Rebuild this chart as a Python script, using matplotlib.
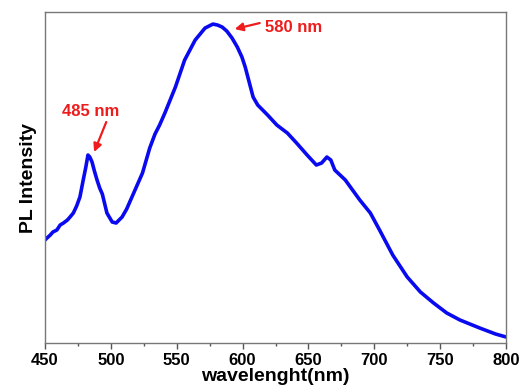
import numpy as np
import matplotlib
matplotlib.use('Agg')
import matplotlib.pyplot as plt
from matplotlib.ticker import MultipleLocator

plt.rcParams['font.family'] = ['Liberation Sans', 'DejaVu Sans']

# PL spectrum (intensity in arbitrary units)
wavelength = [450, 451.5, 454, 456, 459, 461.5, 464, 467, 469, 471.5, 474, 476.5,
              479, 481, 482.6, 484, 485.7, 487.5, 489.5, 491.5, 493.5, 497, 501,
              504, 508.5, 512, 516, 520, 524, 529.5, 533.5, 537, 541, 545,
              549, 556, 564, 571.5, 577.5, 581, 584.5, 588, 592, 596, 599.5,
              602, 604, 606, 608, 611.5, 619, 626, 634, 641, 649, 656, 660,
              664, 667, 670, 678, 689, 697, 704, 714, 725, 735, 745, 755,
              765, 780, 792, 800]
intensity = [103, 105, 108, 111, 113, 118, 120, 123, 126, 130, 137, 146,
             163, 176, 188, 186, 181, 172, 163, 155, 149, 130, 121,
             120, 126, 134, 146, 158, 170, 195, 209, 218, 230, 243,
             256, 283, 303, 315, 319, 318, 316, 312, 305, 296, 286,
             276, 266, 256, 246, 238, 228, 218, 210, 200, 188, 178, 180,
             186, 183, 173, 163, 143, 130, 113, 88, 66, 51, 40, 30,
             23, 15, 9, 6]

peak_labels = ['485 nm', '580 nm']

fig = plt.figure(figsize=(5.21, 3.89), dpi=100)
ax = fig.add_axes([0.0864, 0.1183, 0.8848, 0.8507])

ax.plot(wavelength, intensity, color='#0a0af0', lw=2.6,
        solid_capstyle='round', solid_joinstyle='round')

ax.set_xlim(450, 800)
ax.set_ylim(0, 331)
ax.xaxis.set_major_locator(MultipleLocator(50))
ax.xaxis.set_minor_locator(MultipleLocator(25))
ax.set_yticks([])
ax.tick_params(axis='x', which='major', direction='out', length=4, width=1,
               color='#555555', labelsize=12, pad=3)
ax.tick_params(axis='x', which='minor', direction='out', length=2.5, width=1,
               color='#555555')
for lbl in ax.get_xticklabels():
    lbl.set_fontweight('bold')
for sp in ax.spines.values():
    sp.set_color('#777777')
    sp.set_linewidth(1.0)

ax.set_xlabel('wavelenght(nm)', fontsize=14, fontweight='bold', labelpad=0)
ax.set_ylabel('PL Intensity', fontsize=14, fontweight='bold', labelpad=6)

# peak annotations
red = '#ee1c1c'
arrow = dict(arrowstyle='-|>', color=red, lw=1.6, mutation_scale=12,
             shrinkA=0, shrinkB=0)
ax.text(485, 232, peak_labels[0], color=red, fontsize=12, fontweight='bold',
        ha='center', va='center')
ax.annotate('', xy=(487.3, 191), xytext=(496.5, 221), arrowprops=arrow)
ax.text(617, 316, peak_labels[1], color=red, fontsize=12, fontweight='bold',
        ha='left', va='center')
ax.annotate('', xy=(594, 314), xytext=(613, 320), arrowprops=arrow)

fig.savefig('out.png', dpi=100)
